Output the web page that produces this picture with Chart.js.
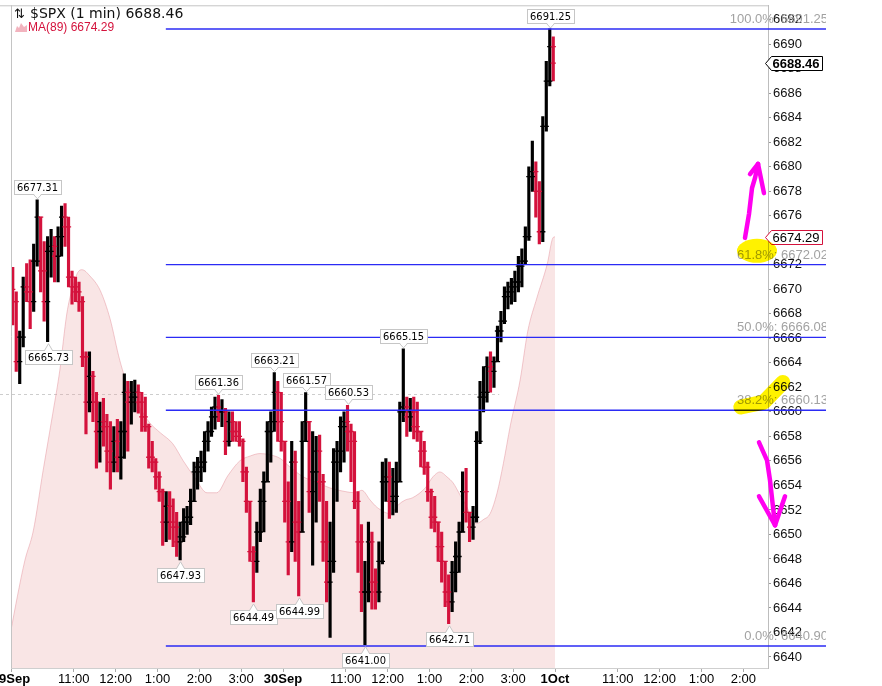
<!DOCTYPE html>
<html><head><meta charset="utf-8">
<script src="https://cdn.jsdelivr.net/npm/chart.js@4.4.1/dist/chart.umd.min.js"></script>
<style>html,body{margin:0;padding:0;background:#fff;}canvas{display:block;}</style>
</head><body>
<canvas id="c" width="882" height="686" style="width:882px;height:686px"></canvas>
<script>
// ---------- data (5-minute aggregation of the 1-min $SPX bars, 29 Sep - 30 Sep) ----------
const barMinutes = 5;
const firstOpen = 6670.0;
const barHigh = [
6671.8,6669.8,6666.6,6671.0,6672.1,6672.4,6673.7,6677.31,6675.9,6673.9,
6674.3,6674.9,6674.3,6675.1,6676.8,6677.0,6675.9,6671.5,6671.0,6670.6,
6669.4,6664.9,6664.9,6663.3,6661.6,6660.8,6661.1,6659.8,6659.2,6658.8,
6659.4,6659.2,6663.1,6662.5,6662.5,6662.6,6662.2,6661.6,6661.2,6659.0,
6657.6,6656.2,6655.1,6653.7,6653.5,6653.5,6652.9,6651.8,6651.0,6652.1,
6652.3,6653.7,6655.9,6656.3,6656.8,6658.4,6659.2,6660.4,6661.2,6661.36,
6661.0,6660.3,6660.0,6660.0,6659.2,6659.2,6657.8,6655.5,6652.7,6649.0,
6651.0,6653.7,6655.1,6659.2,6660.0,6663.21,6662.5,6661.6,6657.6,6654.3,
6657.6,6656.8,6652.7,6659.2,6661.57,6659.2,6658.4,6658.0,6658.1,6654.9,
6652.7,6651.0,6657.0,6657.6,6659.6,6660.0,6660.53,6659.0,6658.4,6653.5,
6650.8,6647.8,6651.0,6650.2,6647.2,6649.4,6655.9,6656.2,6655.9,6655.4,
6655.9,6660.8,6665.15,6661.2,6661.1,6661.2,6660.8,6658.4,6657.6,6655.9,
6653.7,6653.1,6651.0,6650.2,6647.8,6646.7,6647.8,6649.4,6651.0,6655.1,
6655.4,6651.8,6652.3,6658.4,6662.5,6663.7,6664.5,6664.9,6664.5,6667.0,
6668.2,6670.2,6670.6,6670.9,6671.5,6672.7,6673.3,6675.1,6680.0,6682.1,
6680.4,6678.8,6684.1,6688.6,6691.25,6690.6];
const barLow = [
6667.1,6663.3,6662.3,6665.3,6669.0,6666.8,6668.2,6671.9,6669.8,6667.4,
6665.73,6671.0,6670.6,6670.6,6672.7,6673.5,6670.2,6668.8,6669.0,6668.2,
6663.7,6658.2,6660.0,6659.2,6655.4,6655.9,6657.2,6655.1,6653.7,6655.1,
6655.1,6654.5,6656.2,6656.8,6659.0,6660.0,6659.9,6658.4,6658.4,6655.4,
6655.1,6653.7,6652.7,6649.1,6649.4,6649.6,6649.0,6648.2,6647.93,6649.4,
6650.0,6650.8,6652.7,6653.7,6654.3,6655.1,6656.8,6658.0,6658.6,6659.2,
6658.8,6656.5,6657.2,6657.6,6657.6,6657.2,6654.3,6651.8,6647.8,6644.49,
6646.9,6649.4,6650.2,6654.3,6655.9,6658.4,6657.6,6656.8,6651.0,6646.7,
6648.6,6647.8,6644.99,6650.2,6657.6,6651.8,6647.5,6651.0,6652.7,6647.8,
6644.5,6641.6,6646.9,6652.7,6655.1,6655.9,6656.8,6654.3,6652.1,6646.9,
6643.7,6641.00,6644.5,6643.9,6643.9,6644.5,6647.6,6652.7,6651.3,6651.6,
6651.8,6654.3,6659.2,6658.0,6658.4,6657.8,6657.6,6655.5,6654.9,6652.7,
6650.5,6650.2,6647.8,6646.1,6644.1,6642.71,6643.7,6645.3,6646.9,6650.2,
6651.0,6649.4,6649.6,6651.0,6657.4,6660.0,6660.8,6661.6,6662.0,6664.1,
6665.7,6667.2,6668.4,6668.8,6669.0,6669.8,6670.2,6672.1,6674.0,6678.0,
6675.9,6673.7,6673.9,6682.9,6686.6,6687.0];
const barClose = [
6669.0,6664.1,6666.1,6670.2,6669.8,6669.0,6672.3,6675.9,6671.5,6669.0,
6673.1,6673.5,6672.7,6674.3,6675.9,6675.1,6671.0,6670.2,6669.8,6669.0,
6664.5,6660.8,6662.9,6660.8,6658.4,6659.2,6658.8,6656.8,6655.9,6657.6,
6656.3,6658.4,6661.6,6660.8,6661.2,6661.6,6660.8,6659.6,6658.8,6656.3,
6655.9,6654.7,6653.5,6651.0,6652.3,6651.0,6650.6,6649.4,6649.8,6651.0,
6651.4,6652.7,6655.1,6655.5,6655.9,6657.6,6658.4,6659.6,6660.4,6660.0,
6660.0,6657.6,6659.2,6658.4,6658.0,6657.6,6655.1,6652.7,6648.6,6647.8,
6650.2,6652.7,6654.3,6658.4,6659.2,6661.6,6659.2,6657.6,6652.7,6649.4,
6655.9,6651.0,6650.2,6657.6,6659.2,6653.5,6655.1,6656.8,6654.3,6649.4,
6646.1,6647.8,6655.9,6656.8,6658.8,6659.2,6658.4,6657.6,6652.7,6649.4,
6645.3,6645.3,6649.4,6646.1,6645.3,6647.8,6654.3,6654.7,6652.7,6653.1,
6654.3,6660.0,6660.4,6659.6,6660.0,6658.8,6658.4,6656.8,6655.5,6653.5,
6651.4,6651.0,6649.0,6647.8,6645.3,6644.5,6646.9,6648.2,6650.2,6653.5,
6651.8,6650.6,6651.4,6657.6,6661.2,6661.6,6663.7,6663.3,6664.1,6666.6,
6667.4,6669.4,6669.8,6670.2,6670.6,6671.9,6672.3,6674.3,6679.2,6679.6,
6678.0,6674.7,6683.3,6687.0,6689.8,6688.46];

// MA(89) (minutes since 29 Sep 9:30, trading time)
const maMinute = [0,9,20,32,46,60,70,80,88,96,102,113,128,142,156,171,185,199,214,232,
247,264,281,295,311,328,343,357,371,386,400,419,436,457,479,493,503,515,525,544,
555,565,576,594,605,615,625,634,644,654,661,668,677,687,697,706,716,730,741,754,769,777,780];
const maValue = [6642.2,6644.9,6647.9,6650.3,6655.2,6659.9,6663.4,6668.0,6670.1,6671.4,
6671.6,6671.1,6669.9,6667.6,6664.2,6661.6,6660.3,6659.1,6658.3,6657.4,
6656.0,6654.6,6653.4,6653.4,6654.8,6656.0,6656.4,6656.6,6656.5,6656.2,
6655.5,6654.7,6654.3,6653.8,6653.5,6653.4,6653.6,6652.8,6652.2,6651.7,
6652.4,6652.8,6653.0,6653.8,6654.7,6655.1,6654.7,6654.2,6653.2,6652.2,
6651.3,6650.9,6651.2,6651.7,6653.4,6655.8,6658.9,6662.6,6666.6,6669.3,
6672.1,6674.2,6674.29];

const xTickMinute = [0,90,150,210,270,330,390,480,540,600,660,720,780,870,930,990,1050];
const xTickLabel = ['29Sep','11:00','12:00','1:00','2:00','3:00','30Sep','11:00','12:00','1:00','2:00','3:00','1Oct','11:00','12:00','1:00','2:00'];
const yTickValues = [6640,6642,6644,6646,6648,6650,6652,6654,6656,6658,6660,6662,6664,6666,
6668,6670,6672,6674,6676,6678,6680,6682,6684,6686,6688,6690,6692];

const fibPct = ['100.0%','61.8%','50.0%','38.2%','0.0%'];
const fibLevel = [6691.25,6672.02,6666.08,6660.13,6640.90];
const fibStartMinute = 222;

const swingIndex = [7,10,59,75,84,96,112,48,69,82,101,125,154];
const swingSide = ['high','low','high','high','high','high','high','low','low','low','low','low','high'];

const lastPrice = 6688.46;
const lastMA = 6674.29;
const refLevel = 6661.5, refEndMinute = 700;

// hand-drawn marks on the original (minute, price)
const upArrowPath = [[1052.4,6674.2],[1058.2,6676.16],[1062.5,6678.27],[1066.8,6679.09],[1071.1,6680.23]];
const upArrowWings = [[1059.6,6679.41],[1079.6,6677.85]];
const downArrowPath = [[1072.5,6657.51],[1084.0,6656.04],[1088.3,6654.41],[1092.6,6652.21],[1095.5,6650.75]];
const downArrowWings = [[1072.5,6653.11],[1109.8,6653.11]];
const highlight1 = [1069.6,6673.14];
const highlight2 = [[1046.5,6660.4],[1079.5,6660.8],[1106.7,6662.4]];

// ---------- derived ----------
const barTime = barClose.map((_, i) => i * barMinutes + barMinutes / 2);
const barOpen = barClose.map((c, i) => i === 0 ? firstOpen : barClose[i - 1]);
const UP = '#000000', DOWN = '#d4123c';
const barColor = barClose.map((c, i) => c >= barOpen[i] ? UP : DOWN);

const FONT = '"Liberation Sans", Arial, sans-serif';

const deco = {
  id: 'deco',
  beforeDatasetsDraw(chart) {
    const {ctx, scales: {x, y}} = chart;
    ctx.save();
    ctx.strokeStyle = '#cdcdcd'; ctx.lineWidth = 1; ctx.setLineDash([3, 3]);
    const py = Math.round(y.getPixelForValue(refLevel)) + 0.5;
    ctx.beginPath(); ctx.moveTo(0, py); ctx.lineTo(x.getPixelForValue(refEndMinute), py); ctx.stroke();
    ctx.restore();
  },
  afterDatasetsDraw(chart) {
    const {ctx, scales: {x, y}} = chart;
    // Fibonacci lines + labels
    ctx.save();
    ctx.beginPath(); ctx.rect(0, 0, 826, chart.height); ctx.clip();
    ctx.strokeStyle = '#2b2bf5'; ctx.lineWidth = 1.4;
    fibLevel.forEach((lv) => {
      const py = y.getPixelForValue(lv);
      ctx.beginPath(); ctx.moveTo(x.getPixelForValue(fibStartMinute), py); ctx.lineTo(chart.width, py); ctx.stroke();
    });
    ctx.font = '13px ' + FONT; ctx.fillStyle = '#a2a2a2'; ctx.textAlign = 'right'; ctx.textBaseline = 'middle';
    fibLevel.forEach((lv, i) => {
      const py = y.getPixelForValue(lv);
      ctx.fillText(fibPct[i] + ': ' + lv.toFixed(2), 828, py - 9.5);
    });
    ctx.restore();

    // swing labels
    ctx.save();
    ctx.font = '11px "DejaVu Sans Condensed", "DejaVu Sans", sans-serif';
    swingIndex.forEach((bi, k) => {
      const isHigh = swingSide[k] === 'high';
      const val = isHigh ? barHigh[bi] : barLow[bi];
      const txt = val.toFixed(2);
      const cx = Math.round(x.getPixelForValue(barTime[bi])) + 0.5;
      const py = y.getPixelForValue(val);
      const w = Math.ceil(ctx.measureText(txt).width) + 6, h = 14;
      const top = Math.round(isHigh ? py - 6 - h : py + 8) + 0.5;
      const left = Math.round(cx - w / 2) + 0.5;
      ctx.fillStyle = '#fff'; ctx.strokeStyle = '#c6c6c6'; ctx.lineWidth = 1;
      ctx.fillRect(left, top, w, h); ctx.strokeRect(left, top, w, h);
      const base = isHigh ? top + h : top;
      const tip = isHigh ? py - 1 : py + 2;
      ctx.beginPath(); ctx.moveTo(cx - 4, base + (isHigh ? -1 : 1)); ctx.lineTo(cx, tip); ctx.lineTo(cx + 4, base + (isHigh ? -1 : 1)); ctx.closePath(); ctx.fill();
      ctx.beginPath(); ctx.moveTo(cx - 4, base); ctx.lineTo(cx, tip); ctx.lineTo(cx + 4, base); ctx.stroke();
      ctx.fillStyle = '#000'; ctx.textAlign = 'center'; ctx.textBaseline = 'middle';
      ctx.fillText(txt, cx, top + h / 2 + 0.5);
    });
    ctx.restore();
  },
  afterDraw(chart) {
    const {ctx, chartArea: ca, scales: {x, y}} = chart;
    ctx.save();
    // frame
    ctx.strokeStyle = '#c4c4c4'; ctx.lineWidth = 1;
    ctx.beginPath(); ctx.moveTo(0, ca.top + 0.5); ctx.lineTo(ca.right, ca.top + 0.5); ctx.stroke();
    ctx.beginPath(); ctx.moveTo(ca.left + 0.5, ca.top); ctx.lineTo(ca.left + 0.5, ca.bottom); ctx.stroke();

    // header
    ctx.textAlign = 'left'; ctx.textBaseline = 'alphabetic';
    ctx.fillStyle = '#111';
    ctx.font = '13px "DejaVu Sans", sans-serif';
    ctx.fillText('\u21C5', 14, 18);
    ctx.font = '14px "DejaVu Sans", sans-serif';
    ctx.fillText('$SPX (1 min) ' + lastPrice.toFixed(2), 30, 18);
    ctx.fillStyle = '#f2b3be';
    ctx.beginPath(); ctx.moveTo(15, 32); ctx.lineTo(17, 26); ctx.lineTo(19, 28); ctx.lineTo(21, 23); ctx.lineTo(24, 27); ctx.lineTo(27, 25); ctx.lineTo(27, 32); ctx.closePath(); ctx.fill();
    ctx.fillStyle = '#d4123c';
    ctx.font = '12px ' + FONT;
    ctx.fillText('MA(89) ' + lastMA.toFixed(2), 28, 31);

    // right price boxes
    const box = (val, border, bold) => {
      const py = Math.round(y.getPixelForValue(val)) + 0.5;
      const l = ca.right + 3.5, r = 822.5, h = 14;
      const t = py - h / 2;
      ctx.beginPath();
      ctx.moveTo(l, t); ctx.lineTo(r, t); ctx.lineTo(r, t + h); ctx.lineTo(l, t + h); ctx.lineTo(l - 6, py); ctx.closePath();
      ctx.fillStyle = '#fff'; ctx.fill(); ctx.strokeStyle = border; ctx.lineWidth = 1; ctx.stroke();
      ctx.fillStyle = '#000'; ctx.font = (bold ? 'bold ' : '') + '13px ' + FONT;
      ctx.textAlign = 'left'; ctx.textBaseline = 'middle';
      ctx.fillText(val.toFixed(2), l + 1, py + 1);
    };
    box(lastPrice, '#000', true);
    box(lastMA, '#d4123c', false);

    const P = (p) => [x.getPixelForValue(p[0]), y.getPixelForValue(p[1])];
    // yellow highlighter
    ctx.globalCompositeOperation = 'multiply';
    ctx.fillStyle = '#fff200'; ctx.strokeStyle = '#fff200';
    const h1 = P(highlight1);
    ctx.beginPath(); ctx.ellipse(h1[0], h1[1], 20, 12, 0, 0, Math.PI * 2); ctx.fill();
    ctx.lineWidth = 15; ctx.lineCap = 'round'; ctx.lineJoin = 'round';
    ctx.beginPath();
    highlight2.forEach((p, i) => { const q = P(p); i ? ctx.lineTo(q[0], q[1]) : ctx.moveTo(q[0], q[1]); });
    ctx.stroke();
    ctx.globalCompositeOperation = 'source-over';

    // magenta arrows
    ctx.strokeStyle = '#ff00f0'; ctx.lineWidth = 4.5; ctx.lineCap = 'round'; ctx.lineJoin = 'round';
    const arrow = (path, wings) => {
      ctx.beginPath();
      path.forEach((p, i) => { const q = P(p); i ? ctx.lineTo(q[0], q[1]) : ctx.moveTo(q[0], q[1]); });
      ctx.stroke();
      const tip = P(path[path.length - 1]);
      wings.forEach((w) => { const q = P(w); ctx.beginPath(); ctx.moveTo(q[0], q[1]); ctx.lineTo(tip[0], tip[1]); ctx.stroke(); });
    };
    arrow(upArrowPath, upArrowWings);
    arrow(downArrowPath, downArrowWings);
    ctx.restore();
  }
};

new Chart(document.getElementById('c'), {
  data: {
    datasets: [
      {
        type: 'line', order: 3,
        data: maMinute.map((t, i) => ({x: t, y: maValue[i]})),
        borderColor: 'rgba(226,140,150,0.45)', borderWidth: 1,
        backgroundColor: 'rgba(232,160,160,0.28)', fill: 'start',
        pointRadius: 0, cubicInterpolationMode: 'monotone'
      },
      {
        type: 'bar', order: 2,
        data: barTime.map((t, i) => ({x: t, y: [barLow[i], barHigh[i]]})),
        backgroundColor: barColor, borderWidth: 0, barThickness: 2.5
      },
      {
        type: 'line', order: 1, showLine: false,
        data: barTime.map((t, i) => ({x: t, y: barOpen[i]})),
        pointStyle: 'line', pointRadius: 2.6, pointBorderWidth: 1.3, pointBorderColor: barColor
      },
      {
        type: 'line', order: 1, showLine: false,
        data: barTime.map((t, i) => ({x: t, y: barClose[i]})),
        pointStyle: 'line', pointRadius: 2.6, pointBorderWidth: 1.3, pointBorderColor: barColor
      }
    ]
  },
  options: {
    responsive: false, animation: false, events: [],
    layout: {padding: {left: 11, top: 4, right: 0, bottom: 0}},
    plugins: {legend: {display: false}, tooltip: {enabled: false}},
    scales: {
      x: {
        type: 'linear', min: 0, max: 1085.4, offset: false,
        grid: {display: true, drawOnChartArea: false, drawTicks: true, tickLength: 4, color: '#aaa', offset: false},
        border: {display: true, color: '#cfcfcf'},
        afterBuildTicks: (s) => { s.ticks = xTickMinute.map((v) => ({value: v})); },
        afterFit: (s) => { s.height = 18; s.paddingLeft = 0; s.paddingRight = 0; },
        ticks: {
          autoSkip: false, maxRotation: 0, minRotation: 0, padding: 0, color: '#000',
          callback: (v, i) => xTickLabel[i],
          font: (c) => ({family: FONT, size: 13, weight: /[A-Za-z]/.test(xTickLabel[c.index] || '') ? 'bold' : 'normal'})
        }
      },
      y: {
        type: 'linear', position: 'right', min: 6639.10, max: 6693.18,
        grid: {display: true, drawOnChartArea: false, drawTicks: true, tickLength: 3, color: '#999'},
        border: {display: true, color: '#bdbdbd', dash: [1, 2]},
        afterBuildTicks: (s) => { s.ticks = yTickValues.map((v) => ({value: v})); },
        afterFit: (s) => { s.width = 114; s.paddingTop = 0; s.paddingBottom = 0; },
        ticks: {padding: 2, color: '#111', font: {family: FONT, size: 13}, callback: (v) => String(v)}
      }
    }
  },
  plugins: [deco]
});
</script>
</body></html>
